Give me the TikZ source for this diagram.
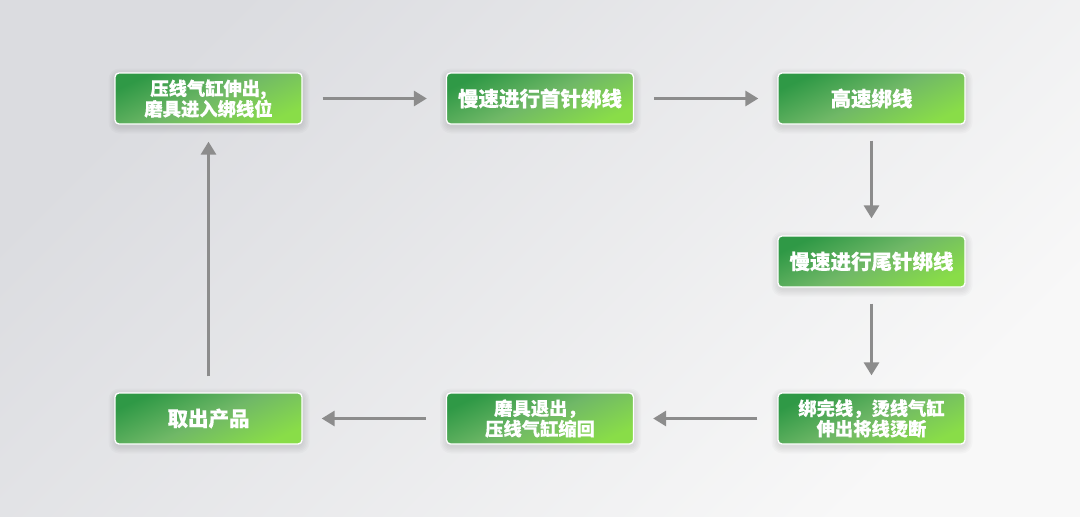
\documentclass[tikz,border=0pt]{standalone}
\usepackage{fontspec}
\newfontfamily\cjk{Noto Sans CJK SC}[BoldFeatures={FakeBold=0.3}]
\usetikzlibrary{arrows.meta}
\definecolor{bgA}{HTML}{DBDCE0}
\definecolor{bgB}{HTML}{F8F8F8}
\definecolor{gA}{HTML}{2F9946}
\definecolor{gM}{HTML}{70B867}
\definecolor{gB}{HTML}{89DD48}
\definecolor{arr}{HTML}{8C8C8C}
\tikzset{
  stepbox/.style={rectangle, rounded corners=4pt, minimum width=187pt, minimum height=51pt,
    draw=white, line width=1.3pt, top color=gA, bottom color=gB, middle color=gM, shading angle=25,
    text=white, font=\cjk\bfseries\fontsize{20.5pt}{23pt}\selectfont, align=center, inner sep=0pt},
  twoline/.style={font=\cjk\bfseries\fontsize{18.3pt}{20.5pt}\selectfont},
  softshadow/.style={fill=black, fill opacity=0.018, draw=none},
  flow/.style={draw=arr, line width=3pt, -{Triangle[width=15pt,length=13pt]}},
  hflow/.style={flow, shorten <=20pt, shorten >=19pt},
  vflow/.style={flow, shorten <=16pt, shorten >=17pt}
}
\newcommand\boxshadow[2]{%
  \foreach \r in {1,2.5,4,5.5,7}{%
    \fill[softshadow, rounded corners=4pt+\r pt] ({#1-93.5-\r+0.5},{#2-25.5-\r+2.5}) rectangle ({#1+93.5+\r+0.5},{#2+25.5+\r+2.5});
  }}
\begin{document}
\begin{tikzpicture}[x=1pt,y=-1pt]
\useasboundingbox (0,0) rectangle (1080,517);
\shade[top color=bgA, bottom color=bgB, shading angle=45] (0,0) rectangle (1080,517);
\boxshadow{208.5}{98.5}
\boxshadow{540}{98.5}
\boxshadow{871.5}{98.5}
\boxshadow{871.5}{261.5}
\boxshadow{871.5}{418.5}
\boxshadow{540}{418.5}
\boxshadow{208.5}{418.5}
\node[stepbox, twoline] (b1) at (208.5,98.5) {压线气缸伸出,\\磨具进入绑线位};
\node[stepbox] (b2) at (540,98.5) {慢速进行首针绑线};
\node[stepbox] (b3) at (871.5,98.5) {高速绑线};
\node[stepbox] (b4) at (871.5,261.5) {慢速进行尾针绑线};
\node[stepbox, twoline] (b5) at (871.5,418.5) {绑完线，烫线气缸\\伸出将线烫断};
\node[stepbox, twoline] (b6) at (540,418.5) {磨具退出，\\压线气缸缩回};
\node[stepbox] (b7) at (208.5,418.5) {取出产品};
\draw[hflow] (b1) -- (b2);
\draw[hflow] (b2) -- (b3);
\draw[vflow] (b3) -- (b4);
\draw[vflow] (b4) -- (b5);
\draw[hflow] (b5) -- (b6);
\draw[hflow] (b6) -- (b7);
\draw[vflow] (b7) -- (b1);
\end{tikzpicture}
\end{document}
